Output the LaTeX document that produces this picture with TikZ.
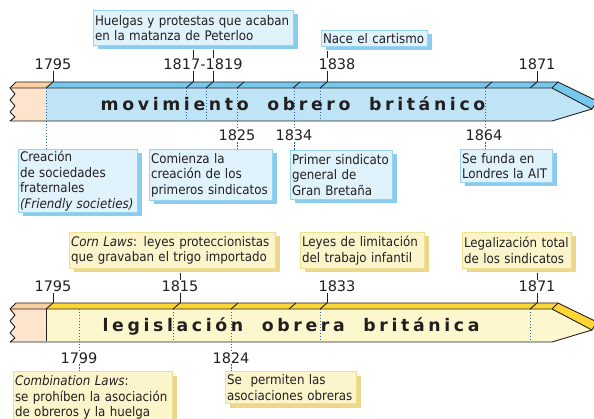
\documentclass[tikz,border=0pt]{standalone}
\usepackage{fontspec}
\setmainfont{DejaVu Sans Condensed}
\newfontfamily\yearfont{DejaVu Sans}
\newfontfamily\barfont[LetterSpace=21]{DejaVu Sans}
\usetikzlibrary{shadows}

\definecolor{inkgray}{RGB}{35,31,32}
\definecolor{dotblue}{RGB}{45,95,170}
\definecolor{peachface}{RGB}{253,229,205}
\definecolor{peachtop}{RGB}{250,208,160}
\definecolor{blueface}{RGB}{190,228,245}
\definecolor{bluetop}{RGB}{118,200,236}
\definecolor{yellowface}{RGB}{253,247,205}
\definecolor{yellowtop}{RGB}{254,214,52}
\definecolor{bluebox}{RGB}{224,242,251}
\definecolor{blueline}{RGB}{150,212,242}
\definecolor{blueshadow}{RGB}{138,204,238}
\definecolor{yellowbox}{RGB}{252,245,204}
\definecolor{yellowline}{RGB}{240,222,145}
\definecolor{yellowshadow}{RGB}{236,216,140}

\tikzset{
  outline/.style={inkgray, line width=0.9pt},
  tick/.style={inkgray, line width=0.9pt},
  dots/.style={dotblue, line width=0.9pt, dash pattern=on 1.5pt off 1.5pt},
  note/.style={draw, line width=1pt, anchor=north west, align=left,
    inner xsep=1.5pt, inner ysep=1pt, text=inkgray,
    font=\fontsize{13.2}{15.5}\selectfont},
  bluenote/.style={note, draw=blueline, fill=bluebox,
    drop shadow={fill=blueshadow, opacity=1, shadow xshift=4pt, shadow yshift=-4pt}},
  yellownote/.style={note, draw=yellowline, fill=yellowbox,
    drop shadow={fill=yellowshadow, opacity=1, shadow xshift=4pt, shadow yshift=-4pt}},
  year/.style={anchor=base, inner sep=1pt, text=inkgray,
    font=\yearfont\fontsize{14.5}{16}\selectfont},
  bartitle/.style={anchor=base, inner sep=0pt, text=inkgray,
    font=\barfont\bfseries\fontsize{17.3}{20}\selectfont}
}

% one bar of the time line, strip colour #1, face colour #2
\newcommand{\timebar}[2]{
  \fill[peachface] (10,88) -- (15,94) -- (10,100) -- (15,106) -- (10,112) -- (15,117) -- (10,121) -- (46,121) -- (46,88) -- cycle;
  \fill[peachtop] (16,82) -- (53,82) -- (46,88) -- (10,88) -- cycle;
  \fill[#1] (53,82) -- (558,82) -- (552,88) -- (46,88) -- cycle;
  \fill[#2] (46,88) -- (552,88) -- (592,109) -- (552,121) -- (46,121) -- cycle;
  \fill[#1] (558,82) -- (597,101) -- (592,109) -- (552,88) -- cycle;
  \draw[outline, line join=round] (10,88) -- (16,82) -- (558,82) -- (597,101) -- (592,109) -- (552,121) -- (10,121)
    -- (15,117) -- (10,112) -- (15,106) -- (10,100) -- (15,94) -- cycle;
  \draw[outline] (10,88) -- (552,88) -- (592,109);
  \draw[outline] (558,82) -- (552,88);
}

\begin{document}
\begin{tikzpicture}[x=1pt,y=-1pt]
\useasboundingbox (0,0) rectangle (594,419);
\clip (0,0) rectangle (594,419);

% movimiento obrero
\timebar{bluetop}{blueface}
\foreach \x in {53,193,213,244,300,327,492,537} \draw[tick] (\x,82) -- (\x-7,88);
\foreach \x in {46,186,206,237,294,320,485} \draw[dots] (\x,88) -- (\x,121);
\node[bartitle] (tmov) at (293,111) {movimiento\hspace{9pt} obrero\hspace{9pt} británico};

% legislacion obrera
\begin{scope}[shift={(0,221)}]
\timebar{yellowtop}{yellowface}
\end{scope}
\foreach \x in {53,180,238,296,327,537} \draw[tick] (\x,303) -- (\x-7,309);
\foreach \x in {79,173,231,320,530} \draw[dots] (\x,309) -- (\x,341);
\draw[outline] (46,309) -- (46,341);
\node[bartitle] (tleg) at (291,332) {legislación\hspace{9pt} obrera\hspace{9pt} británica};

% marks on the bars
\coordinate (m1795) at (53,82);
\coordinate (m1817) at (193,82);
\coordinate (m1819) at (213,82);
\coordinate (m1838) at (327,82);
\coordinate (m1871) at (537,82);
\coordinate (d1795) at (46,121);
\coordinate (d1825) at (237,121);
\coordinate (d1834) at (294,121);
\coordinate (d1864) at (485,121);
\coordinate (n1795) at (53,303);
\coordinate (n1815) at (180,303);
\coordinate (n1833) at (327,303);
\coordinate (n1871) at (537,303);
\coordinate (e1799) at (79,341);
\coordinate (e1824) at (231,341);

% years
\node[year] (y1795) at (53,70) {1795};
\node[year] (y1817) at (203,70) {1817-1819};
\node[year] (y1838) at (337,70) {1838};
\node[year] (y1871) at (537,70) {1871};
\node[year] (y1825) at (237,141) {1825};
\node[year] (y1834) at (294,141) {1834};
\node[year] (y1864) at (484,141) {1864};
\node[year] (z1795) at (53,292) {1795};
\node[year] (z1815) at (180,292) {1815};
\node[year] (z1833) at (337,292) {1833};
\node[year] (z1871) at (537,292) {1871};
\node[year] (z1799) at (79,363) {1799};
\node[year] (z1824) at (231,363) {1824};

% blue notes
\node[bluenote, text width=197pt, minimum height=35pt] (huelgas) at (93,10) {Huelgas y protestas que acaban\\en la matanza de Peterloo};
\node[bluenote, text width=103pt, minimum height=16pt] (cartismo) at (321,30) {Nace el cartismo};
\node[bluenote, text width=116pt, minimum height=63pt] (friendly) at (18,149) {Creación\\de sociedades\\fraternales\\\textit{(Friendly societies)}};
\node[bluenote, text width=120pt, minimum height=51pt] (comienza) at (149,149) {Comienza la\\creación de los\\primeros sindicatos};
\node[bluenote, text width=99pt, minimum height=49pt] (primer) at (290,150) {Primer sindicato\\general de\\Gran Bretaña};
\node[bluenote, text width=89pt, minimum height=33pt] (ait) at (460,149) {Se funda en\\Londres la AIT};

% yellow notes
\node[yellownote, text width=203pt, minimum height=36pt] (cornlaws) at (69,232) {\textit{Corn Laws}: leyes proteccionistas\\que gravaban el trigo importado};
\node[yellownote, text width=121pt, minimum height=36pt] (infantil) at (300,232) {Leyes de limitación\\del trabajo infantil};
\node[yellownote, text width=106pt, minimum height=36pt] (legal) at (462,232) {Legalización total\\de los sindicatos};
\node[yellownote, text width=156pt, minimum height=52pt] (combination) at (13,371) {\textit{Combination Laws}:\\se prohíben la asociación\\de obreros y la huelga};
\node[yellownote, text width=128pt, minimum height=32pt] (permiten) at (225,371) {Se\ \ permiten las\\asociaciones obreras};

% connectors above the bars
\draw[tick] ([yshift=-4pt]huelgas.south -| m1817) -- (y1817.north -| m1817);
\draw[tick] ([yshift=-4pt]huelgas.south -| m1819) -- (y1817.north -| m1819);
\draw[tick] (y1817.south -| m1817) -- (m1817);
\draw[tick] (y1817.south -| m1819) -- (m1819);
\draw[tick] ([yshift=-4pt]cartismo.south -| m1838) -- (y1838.north -| m1838);
\draw[tick] (y1838.south -| m1838) -- (m1838);
\draw[tick] (y1795.south) -- (m1795);
\draw[tick] (y1871.south) -- (m1871);
\draw[tick] ([yshift=-4pt]cornlaws.south -| n1815) -- (z1815.north);
\draw[tick] (z1815.south) -- (n1815);
\draw[tick] (z1795.south) -- (n1795);
\draw[tick] (z1833.south -| n1833) -- (n1833);
\draw[tick] ([yshift=-4pt]legal.south -| n1871) -- (z1871.north);
\draw[tick] (z1871.south) -- (n1871);

% dotted connectors below the bars
\draw[dots] (d1795) -- (friendly.north -| d1795);
\draw[dots] (d1825) -- (y1825.north -| d1825);
\draw[dots] (y1825.south -| d1825) -- (comienza.north -| d1825);
\draw[dots] (d1834) -- (y1834.north -| d1834);
\draw[dots] (y1834.south -| d1834) -- (primer.north -| d1834);
\draw[dots] (d1864) -- (y1864.north -| d1864);
\draw[dots] (y1864.south -| d1864) -- (ait.north -| d1864);
\draw[dots] (e1799) -- (z1799.north -| e1799);
\draw[dots] (z1799.south -| e1799) -- (combination.north -| e1799);
\draw[dots] (e1824) -- (z1824.north -| e1824);
\draw[dots] (z1824.south -| e1824) -- (permiten.north -| e1824);
\end{tikzpicture}
\end{document}
